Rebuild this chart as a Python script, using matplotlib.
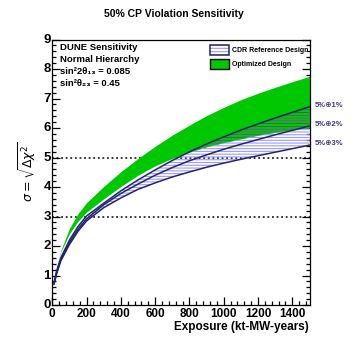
import matplotlib
matplotlib.use("Agg")
import matplotlib.pyplot as plt
import matplotlib.transforms as mtransforms
import numpy as np
from matplotlib.ticker import MultipleLocator, AutoMinorLocator
from matplotlib.patches import Rectangle

# ---- data ----
x_cdr = [10, 25, 50, 100, 150, 200, 300, 400, 500, 600, 700, 800, 900, 1000, 1100, 1200, 1300, 1400, 1500]
cdr_1pct = [0.75, 1.15, 1.60, 2.20, 2.66, 3.02, 3.45, 3.87, 4.24, 4.58, 4.90, 5.19, 5.46, 5.70, 5.93, 6.14, 6.34, 6.53, 6.72]
cdr_2pct = [0.72, 1.10, 1.55, 2.12, 2.57, 2.92, 3.40, 3.78, 4.10, 4.40, 4.66, 4.89, 5.09, 5.28, 5.45, 5.61, 5.77, 5.92, 6.07]
cdr_3pct = [0.70, 1.05, 1.50, 2.05, 2.50, 2.85, 3.30, 3.63, 3.92, 4.14, 4.34, 4.51, 4.67, 4.81, 4.94, 5.06, 5.18, 5.30, 5.42]

x_opt = [25, 50, 100, 150, 200, 300, 400, 500, 600, 700, 800, 900, 1000, 1100, 1200, 1300, 1400, 1500]
opt_high = [1.28, 1.85, 2.60, 3.10, 3.47, 4.02, 4.52, 4.97, 5.38, 5.76, 6.10, 6.42, 6.70, 6.96, 7.18, 7.38, 7.57, 7.75]
opt_low = [1.25, 1.80, 2.42, 2.84, 3.15, 3.60, 4.02, 4.40, 4.72, 4.97, 5.18, 5.36, 5.50, 5.63, 5.75, 5.85, 5.93, 6.00]

sigma_levels = [3, 5]
band_labels = ["5%\u22951%", "5%\u22952%", "5%\u22953%"]
info_lines = ["DUNE Sensitivity", "Normal Hierarchy",
              "sin\u00b22\u03b8\u2081\u2083 = 0.085", "sin\u00b2\u03b8\u2082\u2083 = 0.45"]
legend_labels = ["CDR Reference Design", "Optimized Design"]

# ---- style ----
plt.rcParams['font.family'] = ['Liberation Sans', 'DejaVu Sans']
plt.rcParams['hatch.linewidth'] = 0.8

W, H = 354, 339
fig = plt.figure(figsize=(W / 100, H / 100), dpi=100)
ax = fig.add_axes([52.3 / W, 34 / H, (309.5 - 52.3) / W, (305 - 39.5) / H])

navy = '#24246e'
green = '#00c800'
hatch_blue = '#9a9aff'
hatch_green = '#1f7f1f'

# dotted sigma levels
for lv in sigma_levels:
    ax.axhline(lv, color='black', ls=(0, (1.2, 1.8)), lw=1.1, zorder=1)

# optimized band
ax.fill_between(x_opt, opt_low, opt_high, color=green, lw=0, zorder=2)

# CDR hatched band
xc = np.array(x_cdr, dtype=float)
ax.fill_between(xc, cdr_3pct, cdr_1pct, facecolor='none', edgecolor=hatch_blue,
                hatch='------', lw=0, zorder=3)
# overlap region, hatch darker green
lo_interp = np.interp(xc, x_opt, opt_low, left=np.nan)
hi_interp = np.interp(xc, x_opt, opt_high, left=np.nan)
ov_lo = np.maximum(np.array(cdr_3pct), lo_interp)
ov_hi = np.minimum(np.array(cdr_1pct), hi_interp)
mask = ov_hi > ov_lo
ax.fill_between(xc, ov_lo, ov_hi, where=mask, interpolate=True, facecolor='none',
                edgecolor=hatch_green, hatch='------', lw=0, zorder=3.5)

for yv in (cdr_1pct, cdr_2pct, cdr_3pct):
    ax.plot(x_cdr, yv, color=navy, lw=1.1, zorder=4)

ax.set_xlim(0, 1500)
ax.set_ylim(0, 9)
ax.xaxis.set_major_locator(MultipleLocator(200))
ax.xaxis.set_minor_locator(AutoMinorLocator(5))
ax.yaxis.set_major_locator(MultipleLocator(1))
ax.yaxis.set_minor_locator(AutoMinorLocator(5))
ax.tick_params(which='both', direction='in', right=True, top=False, width=0.9)
ax.tick_params(which='major', length=6)
ax.tick_params(which='minor', length=3)
ax.tick_params(axis='x', labelsize=8.5, pad=2.5)
ax.tick_params(axis='y', labelsize=9.5, pad=1)
shift = mtransforms.ScaledTranslation(0, 1.2 / 100, fig.dpi_scale_trans)
for lab in ax.get_yticklabels():
    lab.set_transform(lab.get_transform() + shift)
for lab in ax.get_xticklabels() + ax.get_yticklabels():
    lab.set_fontweight('bold')
for sp in ax.spines.values():
    sp.set_linewidth(0.9)

# titles / labels
fig.text(174 / W, 1 - 14 / H, "50% CP Violation Sensitivity", ha='center', va='center',
         fontsize=7.5, fontweight='bold')
fig.text(309 / W, 1 - 327 / H, "Exposure (kt-MW-years)", ha='right', va='center',
         fontsize=8.5, fontweight='bold')
fig.text(28 / W, 1 - 172 / H, r"$\sigma = \sqrt{\Delta\chi^{2}}$", ha='center', va='center',
         rotation=90, fontsize=9, math_fontfamily='dejavusans')

for i, t in enumerate(info_lines):
    fig.text(60.5 / W, 1 - (47.5 + 12 * i) / H, t, ha='left', va='center',
             fontsize=6.8, fontweight='bold')

# legend
leg_y = [50, 64]
fig.patches.append(Rectangle((210 / W, 1 - 55 / H), 19 / W, 10 / H, transform=fig.transFigure,
                             facecolor='white', edgecolor=hatch_blue, hatch='-----', lw=0))
fig.patches.append(Rectangle((210 / W, 1 - 55 / H), 19 / W, 10 / H, transform=fig.transFigure,
                             facecolor='none', edgecolor=navy, lw=1.1))
fig.patches.append(Rectangle((210 / W, 1 - 69.3 / H), 19 / W, 10 / H, transform=fig.transFigure,
                             facecolor=green, edgecolor='black', lw=1.0))
for yy, t in zip(leg_y, legend_labels):
    fig.text(232 / W, 1 - yy / H, t, ha='left', va='center', fontsize=5.0, fontweight='bold')

# right side band labels
for yv, t in zip([cdr_1pct[-1], cdr_2pct[-1], cdr_3pct[-1]], band_labels):
    ax.annotate(t, xy=(1500, yv), xytext=(4, 1), textcoords='offset points',
                ha='left', va='center', fontsize=5.5, fontweight='bold', color='#3a3a80',
                annotation_clip=False, family=['Liberation Sans', 'DejaVu Sans'])

fig.savefig("out.png", dpi=100)
